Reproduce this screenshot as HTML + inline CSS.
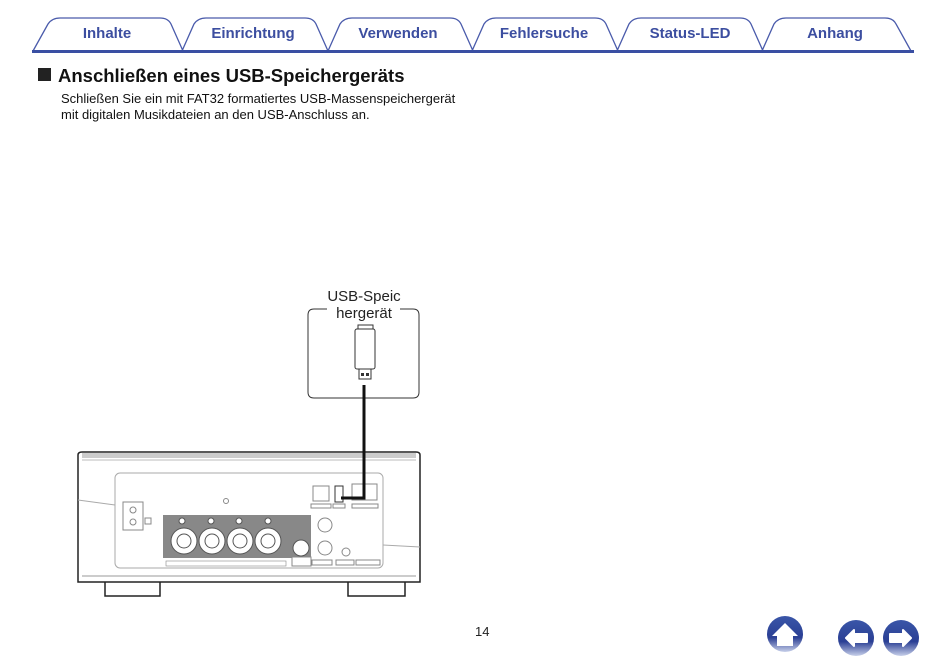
<!DOCTYPE html>
<html><head><meta charset="utf-8"><style>
body{margin:0;width:950px;height:665px;background:#fff;overflow:hidden;font-family:"Liberation Sans",sans-serif;}
</style></head><body>
<svg width="950" height="665" viewBox="0 0 950 665" xmlns="http://www.w3.org/2000/svg" font-family="Liberation Sans, sans-serif">
<defs>
<linearGradient id="bg" x1="0" y1="0" x2="0" y2="1"><stop offset="0" stop-color="#3a56a8"/><stop offset="0.6" stop-color="#2a3f94"/><stop offset="1" stop-color="#c8d0ea"/></linearGradient>
</defs>
<g fill="none" stroke="#4a5bab" stroke-width="1.3">
<path d="M33 51 L48 24 Q52 18 60 18 L160 18 Q168 18 171 24 L183 51"/>
<path d="M182 51 L194 24 Q198 18 206 18 L305 18 Q313 18 316 24 L328 51"/>
<path d="M328 51 L340 24 Q344 18 352 18 L450 18 Q458 18 461 24 L473 51"/>
<path d="M472 51 L484 24 Q488 18 496 18 L595 18 Q603 18 606 24 L618 51"/>
<path d="M617 51 L629 24 Q633 18 641 18 L740 18 Q748 18 751 24 L763 51"/>
<path d="M762 51 L774 24 Q778 18 786 18 L885 18 Q893 18 896 24 L911 51"/>
</g>
<rect x="32" y="50" width="882" height="3" fill="#3a4fa3"/>
<g fill="#3c4ea0" font-weight="bold" font-size="15" text-anchor="middle">
<text x="107" y="38">Inhalte</text><text x="253" y="38">Einrichtung</text><text x="398" y="38">Verwenden</text>
<text x="544" y="38">Fehlersuche</text><text x="690" y="38">Status-LED</text><text x="835" y="38">Anhang</text>
</g>
<rect x="38" y="68" width="13" height="13" fill="#222"/>
<text x="58" y="82" font-size="18.5" font-weight="bold" fill="#111">Anschließen eines USB-Speichergeräts</text>
<text x="61" y="103" font-size="13" fill="#111">Schließen Sie ein mit FAT32 formatiertes USB-Massenspeichergerät</text>
<text x="61" y="119" font-size="13" fill="#111">mit digitalen Musikdateien an den USB-Anschluss an.</text>
<path d="M327 309 L314 309 Q308 309 308 315 L308 392 Q308 398 314 398 L413 398 Q419 398 419 392 L419 315 Q419 309 413 309 L400 309" fill="none" stroke="#333" stroke-width="1"/>
<text x="364" y="301" font-size="15" text-anchor="middle" fill="#222">USB-Speic</text>
<text x="364" y="318" font-size="15" text-anchor="middle" fill="#222">hergerät</text>
<rect x="358" y="325" width="15" height="5" fill="#fff" stroke="#333"/>
<rect x="355" y="329" width="20" height="40" rx="2" fill="#fff" stroke="#333"/>
<rect x="359" y="369" width="12" height="10" fill="#fff" stroke="#333"/>
<rect x="361" y="373" width="3" height="3" fill="#333"/><rect x="366" y="373" width="3" height="3" fill="#333"/>
<path d="M78 455 Q78 452 82 452 L416 452 Q420 452 420 455 L420 582 L78 582 Z" fill="#fff" stroke="#222" stroke-width="1.5"/>
<rect x="82" y="453" width="334" height="5" fill="#ccc"/>
<line x1="82" y1="460" x2="416" y2="460" stroke="#bbb"/>
<line x1="82" y1="576" x2="416" y2="576" stroke="#999"/>
<path d="M105 582 L105 596 L160 596 L160 582 M348 582 L348 596 L405 596 L405 582" fill="none" stroke="#222" stroke-width="1.5"/>
<line x1="78" y1="500" x2="115" y2="505" stroke="#aaa"/><line x1="383" y1="545" x2="420" y2="547" stroke="#aaa"/>
<rect x="115" y="473" width="268" height="95" rx="5" fill="#fff" stroke="#aaa"/>
<rect x="123" y="502" width="20" height="28" fill="#fff" stroke="#888"/>
<circle cx="133" cy="510" r="3" fill="none" stroke="#888"/><circle cx="133" cy="522" r="3" fill="none" stroke="#888"/>
<rect x="145" y="518" width="6" height="6" fill="none" stroke="#888"/>
<circle cx="226" cy="501" r="2.5" fill="none" stroke="#888"/>
<rect x="163" y="515" width="148" height="43" fill="#888"/>
<rect x="166" y="561" width="120" height="5" fill="#fff" stroke="#888" stroke-width="0.6"/>
<g fill="#fff" stroke="#555"><circle cx="184" cy="541" r="13"/><circle cx="212" cy="541" r="13"/><circle cx="240" cy="541" r="13"/><circle cx="268" cy="541" r="13"/><circle cx="301" cy="548" r="8"/>
<circle cx="184" cy="541" r="7"/><circle cx="212" cy="541" r="7"/><circle cx="240" cy="541" r="7"/><circle cx="268" cy="541" r="7"/>
<circle cx="182" cy="521" r="3"/><circle cx="211" cy="521" r="3"/><circle cx="239" cy="521" r="3"/><circle cx="268" cy="521" r="3"/></g>
<rect x="292" y="557" width="19" height="9" fill="#fff" stroke="#888"/>
<g fill="#fff" stroke="#888"><circle cx="325" cy="525" r="7"/><circle cx="325" cy="548" r="7"/><circle cx="346" cy="552" r="4"/>
<rect x="313" y="486" width="16" height="15"/><rect x="352" y="484" width="25" height="16"/>
<rect x="311" y="504" width="20" height="4"/><rect x="333" y="504" width="12" height="4"/><rect x="352" y="504" width="26" height="4"/>
<rect x="312" y="560" width="20" height="5"/><rect x="336" y="560" width="18" height="5"/><rect x="356" y="560" width="24" height="5"/></g>
<rect x="335" y="486" width="8" height="16" fill="#fff" stroke="#333"/>
<path d="M364 385 L364 498 L341 498" fill="none" stroke="#111" stroke-width="3"/>
<text x="475" y="636" font-size="13" fill="#222">14</text>
<circle cx="785" cy="634" r="18" fill="url(#bg)"/>
<path d="M772 636 L785 623 L798 636 Z" fill="#fff"/>
<rect x="777" y="634" width="16" height="12" fill="#fff"/>
<circle cx="856" cy="638" r="18" fill="url(#bg)"/>
<path d="M846 638 L854 630 L854 634 L867 634 L867 642 L854 642 L854 646 Z" fill="#fff" stroke="#fff" stroke-linejoin="round" stroke-width="2"/>
<circle cx="901" cy="638" r="18" fill="url(#bg)"/>
<path d="M911 638 L903 630 L903 634 L890 634 L890 642 L903 642 L903 646 Z" fill="#fff" stroke="#fff" stroke-linejoin="round" stroke-width="2"/>
</svg>
</body></html>
